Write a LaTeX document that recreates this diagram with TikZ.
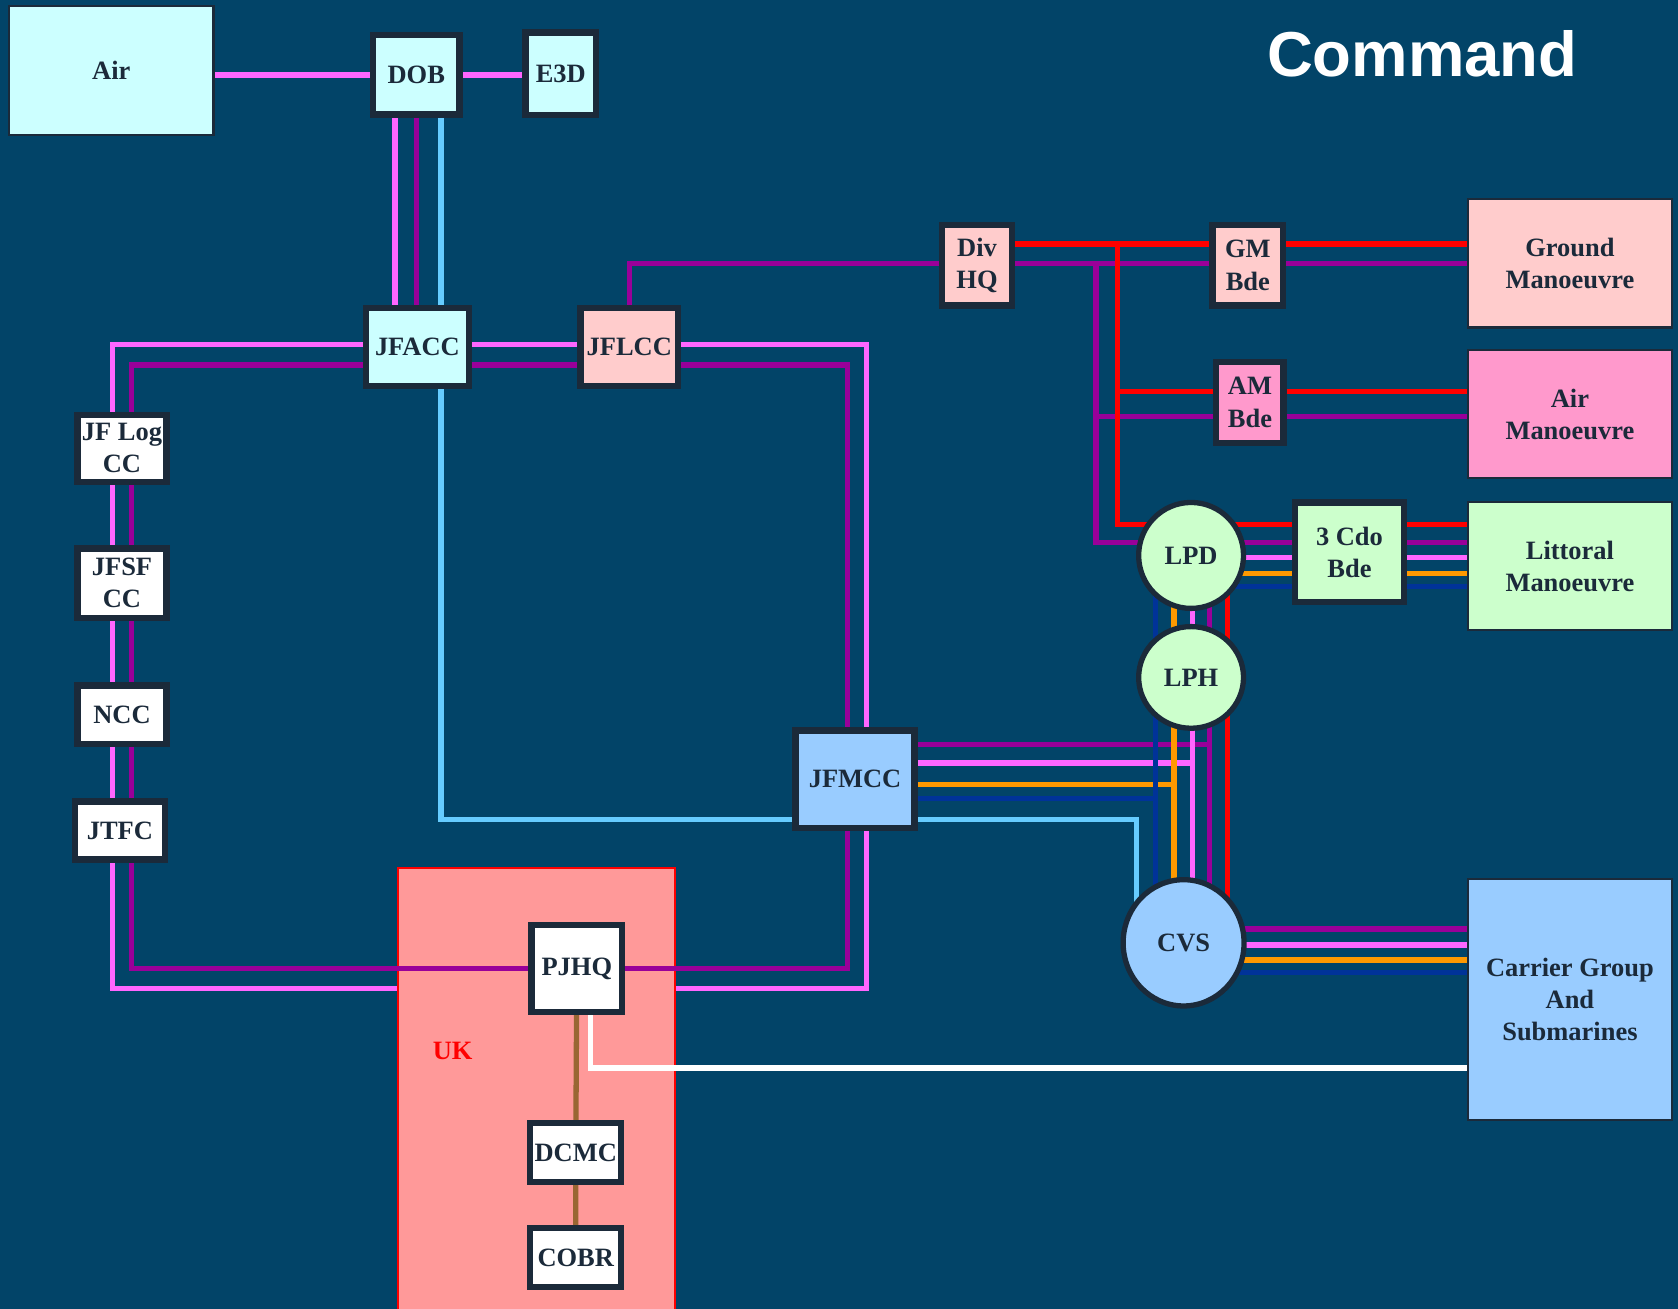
\documentclass[tikz,border=0pt]{standalone}
\usepackage{fontspec}
\setmainfont{Liberation Serif}
\newfontfamily\headfont{Liberation Sans}
\usetikzlibrary{calc,shapes.geometric}

\definecolor{navybg}{RGB}{2,68,104}
\definecolor{edge}{RGB}{27,42,58}
\definecolor{pinkl}{RGB}{255,102,255}
\definecolor{purpl}{RGB}{153,0,153}
\definecolor{skyl}{RGB}{102,204,255}
\definecolor{orangel}{RGB}{255,153,0}
\definecolor{navyl}{RGB}{0,51,153}
\definecolor{brownl}{RGB}{153,102,51}
\definecolor{airf}{RGB}{204,255,255}
\definecolor{landf}{RGB}{255,204,204}
\definecolor{amf}{RGB}{255,153,204}
\definecolor{seaf}{RGB}{204,255,204}
\definecolor{fleetf}{RGB}{153,204,255}
\definecolor{ukf}{RGB}{255,153,153}

\pgfdeclarelayer{back}
\pgfdeclarelayer{wires}
\pgfdeclarelayer{ukbox}
\pgfdeclarelayer{topwires}
\pgfsetlayers{back,wires,ukbox,topwires,main}

\newcommand{\pxu}{0.3034pt}
\tikzset{
  sz/.style 2 args={minimum width=#1*\pxu, minimum height=#2*\pxu},
  unit/.style={draw=edge, line width=1.8pt, text=edge, inner sep=0pt, align=center,
    font=\fontsize{7.5}{9.1}\selectfont\bfseries},
  area/.style={unit, line width=0.6pt},
  ship/.style={unit, ellipse, line width=1.5pt},
  wire/.style={line width=1.5pt},
  pk/.style={wire, pinkl},
  pl/.style={wire, purpl},
  lb/.style={wire, skyl},
  rd/.style={wire, red},
  og/.style={wire, orangel},
  nv/.style={wire, navyl},
  wt/.style={wire, white},
  br/.style={wire, brownl}
}

\begin{document}
\begin{tikzpicture}[x=0.3034pt, y=-0.3034pt]
\begin{pgfonlayer}{back}
\fill[navybg] (0,0) rectangle (1568,1223);
\end{pgfonlayer}
\useasboundingbox (0,0) rectangle (1568,1223);

\node[text=white, font=\headfont\fontsize{18}{20}\selectfont\bfseries] (title) at (1329,50) {Command};

% air side
\node[area, fill=airf, sz={191}{121}] (Air) at (104,66) {Air};
\node[unit, fill=airf, sz={81}{74}] (DOB) at (389,70) {DOB};
\node[unit, fill=airf, sz={66}{77}] (E3D) at (524,69) {E3D};
\node[unit, fill=airf, sz={96}{73}] (JFACC) at (390,324) {JFACC};
\node[unit, fill=landf, sz={91}{73}] (JFLCC) at (588,324) {JFLCC};

% left column
\node[unit, fill=white, sz={83}{63}] (JFLog) at (114,419) {JF Log\\CC};
\node[unit, fill=white, sz={83}{65}] (JFSF) at (114,545) {JFSF\\CC};
\node[unit, fill=white, sz={83}{55}] (NCC) at (114,668) {NCC};
\node[unit, fill=white, sz={84}{54}] (JTFC) at (112,776) {JTFC};

\node[unit, fill=fleetf, sz={111}{91}] (JFMCC) at (799,728) {JFMCC};

% UK
\begin{pgfonlayer}{ukbox}
\node[draw=red, fill=ukf, line width=0.6pt, sz={259}{416}] (UK) at (501,1019) {};
\end{pgfonlayer}
\node[text=red, font=\fontsize{7.5}{9.1}\selectfont\bfseries] (UKlbl) at (423,982) {UK};
\node[unit, fill=white, sz={85}{81}] (PJHQ) at (539,905) {PJHQ};
\node[unit, fill=white, sz={85}{55}] (DCMC) at (538,1077) {DCMC};
\node[unit, fill=white, sz={85}{55}] (COBR) at (538,1175) {COBR};

% land side
\node[unit, fill=landf, sz={65}{75}] (DivHQ) at (913,248) {Div\\HQ};
\node[unit, fill=landf, sz={66}{75}] (GMBde) at (1166,248) {GM\\Bde};
\node[unit, fill=amf, sz={63}{76}] (AMBde) at (1168,376) {AM\\Bde};
\node[area, fill=landf, sz={190}{120}] (Ground) at (1467,246) {Ground\\Manoeuvre};
\node[area, fill=amf, sz={190}{120}] (AirMan) at (1467,387) {Air\\Manoeuvre};

% sea side
\node[ship, fill=seaf, sz={98}{99}] (LPD) at (1113,519) {LPD};
\node[ship, fill=seaf, sz={98}{95}] (LPH) at (1113,633) {LPH};
\node[unit, fill=seaf, sz={102}{93}] (Cdo) at (1261,516) {3 Cdo\\Bde};
\node[area, fill=seaf, sz={190}{120}] (Littoral) at (1467,529) {Littoral\\Manoeuvre};
\node[ship, fill=fleetf, sz={113}{118}] (CVS) at (1106,881) {CVS};
\node[area, fill=fleetf, sz={190}{225}] (Carrier) at (1467,934) {Carrier Group\\And\\Submarines};

\begin{pgfonlayer}{wires}
\draw[pk] (DOB.center) -- (DOB -| Air.east);
\draw[pk] (DOB.center) -- (DOB -| E3D);
\draw[pk] ($(DOB)+(-20,0)$) -- ($(JFACC)+(-21,0)$);
\draw[pl] (DOB.center) -- ($(JFACC)+(-1,0)$);
\draw[lb] ($(DOB)+(23,0)$) |- ($(JFMCC)+(0,38)$) -| ($(CVS)+(-44,0)$);
\draw[pk] ($(JFACC)+(0,-2)$) -| ($(NCC)+(-9,0)$) |- ($(PJHQ)+(0,19)$)
  -| ($(JFMCC)+(11,0)$) |- ($(JFLCC)+(0,-2)$) -- cycle;
\draw[pl] (JFLCC.center) |- ($(DivHQ)+(0,-2)$);
\draw[pl] ($(DivHQ)+(0,-2)$) -- ($(Ground)+(0,0)$);
\draw[pl] ($(DivHQ)+(111,-2)$) |- ($(Littoral)+(0,-22)$);
\draw[pl] ($(AMBde)+(-144,13)$) -- ($(AirMan)+(0,2)$);
\draw[rd] ($(DivHQ)+(0,-20)$) -- ($(Ground)+(0,-18)$);
\draw[rd] ($(DivHQ)+(131,-20)$) |- ($(Littoral)+(0,-39)$);
\draw[rd] ($(AMBde)+(-124,-10)$) -- ($(AirMan)+(0,-21)$);
\draw[pk] ($(LPD)+(0,2)$) -- ($(Littoral)+(0,-8)$);
\draw[og] ($(LPD)+(0,17)$) -- ($(Littoral)+(0,7)$);
\draw[nv] ($(LPD)+(0,29)$) -- ($(Littoral)+(0,19)$);
% ship bus
\draw[nv] ($(LPD)+(-33,0)$) coordinate (busn) -- (busn |- CVS);
\draw[og] ($(LPD)+(-16,0)$) coordinate (buso) -- (buso |- CVS);
\draw[pk] ($(LPD)+(1,0)$) coordinate (busp) -- (busp |- CVS);
\draw[pl] ($(LPD)+(17,0)$) coordinate (busm) -- (busm |- CVS);
\draw[rd] ($(LPD)+(34,0)$) coordinate (busr) -- (busr |- CVS);
\draw[pl] ($(JFMCC)+(0,-32)$) -| (busm);
\draw[pk] ($(JFMCC)+(0,-15)$) -| (busp);
\draw[og] ($(JFMCC)+(0,5)$) -| (buso);
\draw[nv] ($(JFMCC)+(0,18)$) -| (busn);
\draw[pl] ($(CVS)+(0,-13)$) -- ($(Carrier)+(0,-66)$);
\draw[pk] ($(CVS)+(0,2)$) -- ($(Carrier)+(0,-51)$);
\draw[og] ($(CVS)+(0,16)$) -- ($(Carrier)+(0,-37)$);
\draw[nv] ($(CVS)+(0,28)$) -- ($(Carrier)+(0,-25)$);
\end{pgfonlayer}

\begin{pgfonlayer}{topwires}
\draw[pl] ($(JFACC)+(0,17)$) -| ($(NCC)+(9,0)$) |- (PJHQ.center)
  -| ($(JFMCC)+(-7,0)$) |- ($(JFLCC)+(0,17)$) -- cycle;
\draw[wt] ($(PJHQ)+(13,0)$) |- ($(Carrier)+(0,64)$);
\draw[br] (PJHQ) -- (DCMC) -- (COBR);
\end{pgfonlayer}
\end{tikzpicture}
\end{document}
